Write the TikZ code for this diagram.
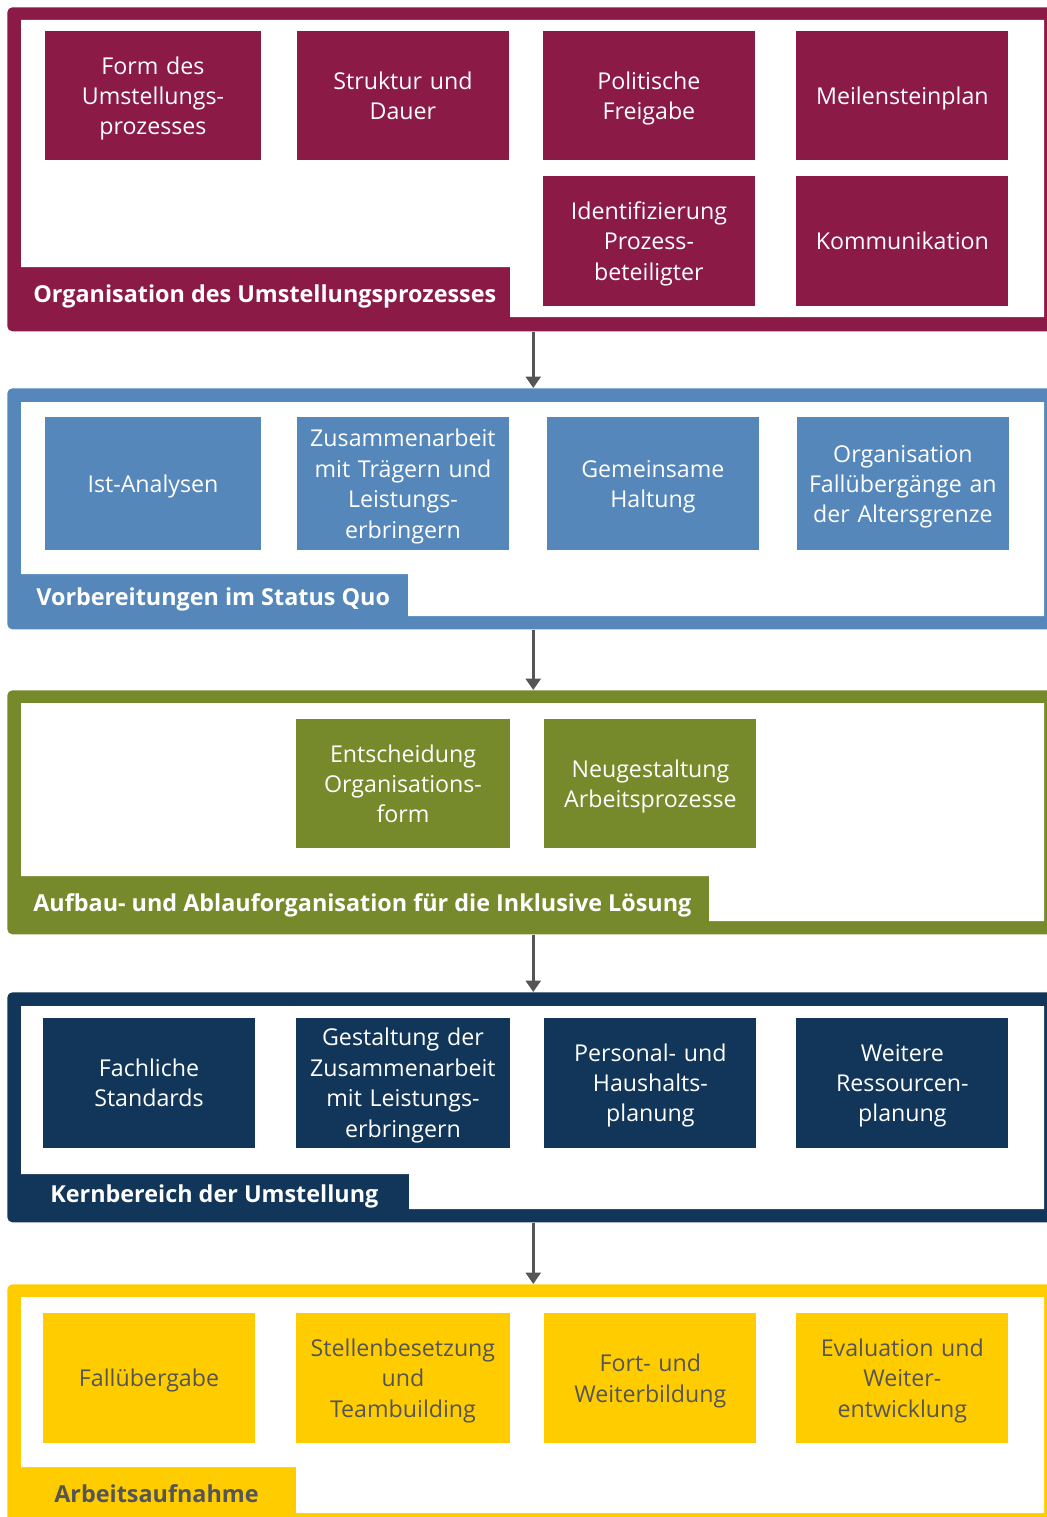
\documentclass[tikz,border=0pt]{standalone}
\usepackage{fontspec}
\setmainfont{Open Sans}
\usetikzlibrary{positioning, arrows.meta}
\definecolor{umred}{HTML}{8C1A46}
\definecolor{umblue}{HTML}{5587BB}
\definecolor{umgreen}{HTML}{778A2B}
\definecolor{umnavy}{HTML}{12365A}
\definecolor{umyellow}{HTML}{FFCC00}
\definecolor{umgray}{HTML}{555555}
\tikzstyle{frame} = [rectangle, rounded corners=0.1cm, minimum width=21.04cm, anchor=north west, inner sep=0pt]
\tikzstyle{box} = [rectangle, minimum width=4.24cm, minimum height=2.6cm, text width=4.24cm, align=center, inner sep=0pt, font=\fontsize{13.2}{17.3}\selectfont, execute at begin node={\rule{0pt}{14pt}}, execute at end node={\rule[-3.8pt]{0pt}{0pt}}]
\tikzstyle{orgbox} = [box, fill=umred, text=white]
\tikzstyle{prepbox} = [box, fill=umblue, text=white]
\tikzstyle{aufbox} = [box, fill=umgreen, text=white]
\tikzstyle{kernbox} = [box, fill=umnavy, text=white]
\tikzstyle{arbbox} = [box, fill=umyellow, text=umgray]
\tikzstyle{tabtext} = [anchor=west, inner sep=0pt, font=\fontsize{13.3}{17.3}\selectfont\bfseries]
\tikzstyle{arrow} = [line width=1.7pt, draw=umgray, -{Triangle[length=0.23cm, width=0.3cm]}]

\begin{document}
\begin{tikzpicture}[x=0.02cm, y=-0.02cm, node distance=5cm]
\useasboundingbox (0,0) rectangle (1046,1517);

%Frames
\node (org) [frame, fill=umred, minimum height=6.48cm] at (7,7) {};
\node (prep) [frame, fill=umblue, minimum height=4.82cm] at (7,388) {};
\node (auf) [frame, fill=umgreen, minimum height=4.88cm] at (7,690) {};
\node (kern) [frame, fill=umnavy, minimum height=4.6cm] at (7,992) {};
\node (arb) [frame, fill=umyellow, minimum height=4.92cm] at (7,1284) {};

%inner areas
\fill [white] (21,20) -- (1044,20) -- (1044,317) -- (510,317) -- (510,267) -- (21,267) -- cycle;
\fill [white] (21,402) -- (1044,402) -- (1044,616) -- (408,616) -- (408,574) -- (21,574) -- cycle;
\fill [white] (21,703) -- (1044,703) -- (1044,921) -- (709,921) -- (709,876) -- (21,876) -- cycle;
\fill [white] (21,1006) -- (1044,1006) -- (1044,1209) -- (409,1209) -- (409,1174) -- (21,1174) -- cycle;
\fill [white] (21,1297) -- (1044,1297) -- (1044,1513) -- (296,1513) -- (296,1467) -- (21,1467) -- cycle;

%titles
\node (orgtitle) [tabtext, text=white] at (33,296) {Organisation des Umstellungsprozesses};
\node (preptitle) [tabtext, text=white] at (36,599) {Vorbereitungen im Status Quo};
\node (auftitle) [tabtext, text=white] at (33,905) {Aufbau- und Ablauforganisation für die Inklusive Lösung};
\node (kerntitle) [tabtext, text=white] at (50,1196) {Kernbereich der Umstellung};
\node (arbtitle) [tabtext, text=umgray] at (54,1494) {Arbeitsaufnahme};

%Organisation
\node (form) [orgbox, minimum width=4.32cm] at (153,95.5) {Form des\\Umstellungs-\\prozesses};
\node (struk) [orgbox, right of=form] {Struktur und\\Dauer};
\node (pol) [orgbox, right of=struk, xshift=-0.08cm] {Politische\\Freigabe};
\node (meil) [orgbox, right of=pol, xshift=0.07cm] {Meilensteinplan};
\node (ident) [orgbox, below of=pol, node distance=2.91cm] {Identifizierung\\Prozess-\\beteiligter};
\node (komm) [orgbox, below of=meil, node distance=2.91cm] {Kommunikation};

%Vorbereitungen
\node (ist) [prepbox, minimum width=4.32cm, minimum height=2.66cm] at (153,483.5) {Ist-Analysen};
\node (zus) [prepbox, right of=ist, minimum height=2.66cm] {Zusammenarbeit\\mit Trägern und\\Leistungs-\\erbringern};
\node (gem) [prepbox, right of=zus, minimum height=2.66cm] {Gemeinsame\\Haltung};
\node (fall) [prepbox, right of=gem, minimum height=2.66cm] {Organisation\\Fallübergänge an\\der Altersgrenze};

%Aufbau
\node (ents) [aufbox, minimum width=4.28cm] at (403,783.5) {Entscheidung\\Organisations-\\form};
\node (neu) [aufbox, right of=ents, xshift=-0.05cm] {Neugestaltung\\Arbeitsprozesse};

%Kernbereich
\node (fach) [kernbox] at (149,1082.5) {Fachliche\\Standards};
\node (gest) [kernbox, right of=fach, xshift=0.08cm, minimum width=4.28cm] {Gestaltung der\\Zusammenarbeit\\mit Leistungs-\\erbringern};
\node (pers) [kernbox, right of=gest, xshift=-0.05cm] {Personal- und\\Haushalts-\\planung};
\node (weit) [kernbox, right of=pers, xshift=0.04cm] {Weitere\\Ressourcen-\\planung};

%Arbeitsaufnahme
\node (fallue) [arbbox] at (149,1378) {Fallübergabe};
\node (stell) [arbbox, right of=fallue, xshift=0.08cm, minimum width=4.28cm] {Stellenbesetzung\\und\\Teambuilding};
\node (fort) [arbbox, right of=stell, xshift=-0.05cm] {Fort- und\\Weiterbildung};
\node (eval) [arbbox, right of=fort, xshift=0.04cm] {Evaluation und\\Weiter-\\entwicklung};

%arrows
\draw [arrow] (org) -- (prep);
\draw [arrow] (prep) -- (auf);
\draw [arrow] (auf) -- (kern);
\draw [arrow] (kern) -- (arb);

\end{tikzpicture}
\end{document}
